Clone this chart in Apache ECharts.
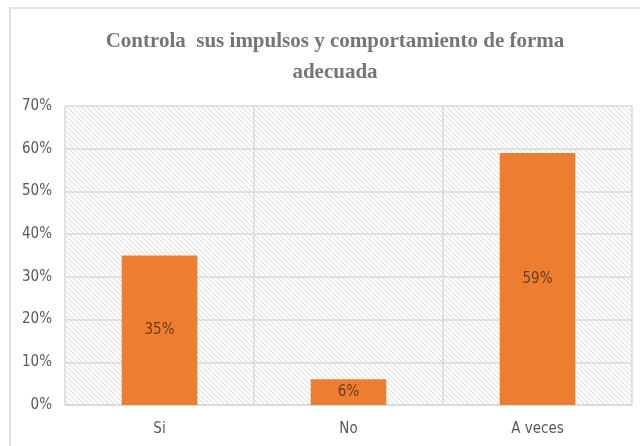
<!DOCTYPE html>
<html>
<head>
<meta charset="utf-8">
<script src="https://cdn.jsdelivr.net/npm/echarts@6/dist/echarts.min.js"></script>
<style>
	html, body { margin: 0; padding: 0; background: #fff; }
	#chart { width: 640px; height: 446px; }
</style>
</head>
<body>
<div id="chart"></div>
<script>
	var categories = ['Si', 'No', 'A veces'];
	var values = [35, 6, 59];
	var titleText = 'Controla  sus impulsos y comportamiento de forma\nadecuada';

	var labelFont = '"DejaVu Sans Condensed", "Liberation Sans Narrow", "Noto Sans", sans-serif';

	// diagonal hatch used as plot background
	function makeHatch() {
		var c = document.createElement('canvas');
		c.width = 5; c.height = 5;
		var ctx = c.getContext('2d');
		ctx.fillStyle = '#ffffff';
		ctx.fillRect(0, 0, 5, 5);
		ctx.strokeStyle = '#dadada';
		ctx.lineWidth = 1;
		ctx.beginPath();
		ctx.moveTo(-1, -1); ctx.lineTo(6, 6);
		ctx.moveTo(-4, 1); ctx.lineTo(4, 9);
		ctx.moveTo(1, -4); ctx.lineTo(9, 4);
		ctx.stroke();
		return c;
	}

	var myChart = echarts.init(document.getElementById('chart'));
	var option = {
		animation: false,
		title: {
			text: titleText,
			left: 330,
			textAlign: 'center',
			top: 21,
			textStyle: {
				fontFamily: 'Liberation Serif',
				fontWeight: 'bold',
				fontSize: 21,
				color: '#767676',
				lineHeight: 31
			}
		},
		graphic: [{
			type: 'rect',
			shape: { x: 10, y: 8, width: 640, height: 450 },
			style: { fill: 'none', stroke: '#d9d9d9', lineWidth: 1.5 },
			z: -1
		}],
		grid: {
			left: 65,
			right: 8,
			top: 106,
			bottom: 41,
			show: true,
			borderWidth: 0,
			backgroundColor: { image: makeHatch(), repeat: 'repeat' }
		},
		xAxis: {
			type: 'category',
			data: categories,
			axisLine: { lineStyle: { color: '#d9d9d9', width: 1.5 } },
			axisTick: { show: false },
			splitLine: { show: true, interval: 0, lineStyle: { color: '#d9d9d9', width: 1.5 } },
			axisLabel: {
				color: '#595959',
				fontSize: 15,
				fontFamily: labelFont,
				margin: 17
			}
		},
		yAxis: {
			type: 'value',
			min: 0,
			max: 70,
			interval: 10,
			axisLine: { show: false },
			axisTick: { show: false },
			splitLine: { lineStyle: { color: '#d9d9d9', width: 1.5 } },
			axisLabel: {
				formatter: '{value}%',
				color: '#595959',
				fontSize: 15,
				fontFamily: labelFont,
				margin: 13
			}
		},
		series: [{
			type: 'bar',
			data: values,
			barWidth: '40%',
			itemStyle: { color: '#ed7d31' },
			label: {
				show: true,
				position: 'inside',
				formatter: '{c}%',
				color: '#6b3b1b',
				fontSize: 15,
				fontFamily: labelFont
			}
		}]
	};
	myChart.setOption(option);
</script>
</body>
</html>
